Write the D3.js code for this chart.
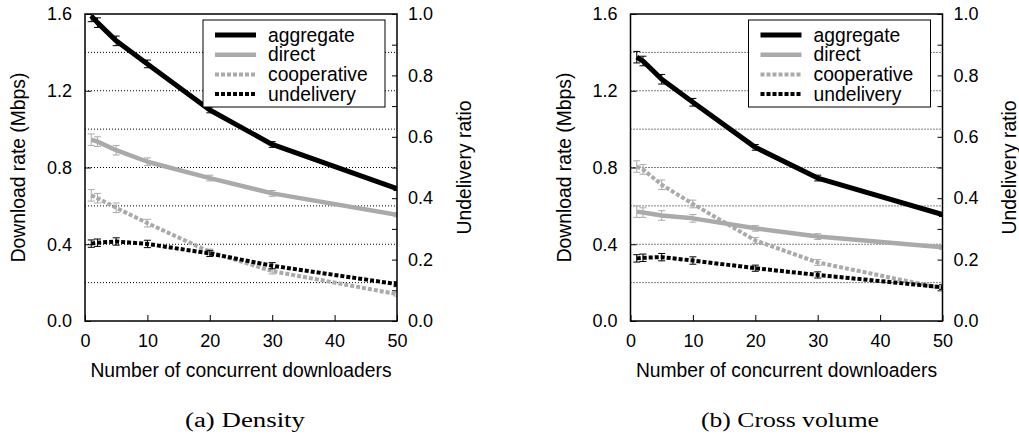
<!DOCTYPE html>
<html>
<head>
<meta charset="utf-8">
<script src="https://cdn.jsdelivr.net/npm/d3@7"></script>
<style>
  html, body { margin: 0; padding: 0; background: #fff; }
  svg { display: block; }
  text { font-family: "Liberation Sans", Arial, Helvetica, sans-serif; fill: #000; }
  .caption { font-family: "Liberation Serif", "DejaVu Serif", serif; }
</style>
</head>
<body>
<script>
// Number of concurrent downloaders at which each run was measured
const downloaders = [1, 2, 5, 10, 20, 30, 50];

// (a) Density: download rates in Mbps, undelivery as a ratio
const densityAggregate   = [1.59, 1.555, 1.46, 1.34, 1.10, 0.92, 0.69];
const densityDirect      = [0.945, 0.935, 0.89, 0.83, 0.745, 0.665, 0.553];
const densityCooperative = [0.655, 0.64, 0.59, 0.51, 0.36, 0.26, 0.14];
const densityUndelivery  = [0.252, 0.255, 0.259, 0.251, 0.22, 0.18, 0.12];

// (b) Cross volume
const crossAggregate   = [1.375, 1.355, 1.26, 1.14, 0.905, 0.745, 0.555];
const crossDirect      = [0.57, 0.565, 0.55, 0.535, 0.483, 0.44, 0.384];
const crossCooperative = [0.805, 0.79, 0.71, 0.61, 0.42, 0.305, 0.17];
const crossUndelivery  = [0.204, 0.206, 0.208, 0.197, 0.172, 0.15, 0.11];

// Half-widths of the confidence intervals
const rateError  = [0.03, 0.025, 0.025, 0.02, 0.015, 0.015, 0.01];
const ratioError = [0.012, 0.012, 0.012, 0.012, 0.01, 0.01, 0.008];

// Axis ticks
const xTicks = [0, 10, 20, 30, 40, 50];
const rateTicks = [0, 0.4, 0.8, 1.2, 1.6];
const rateGrid = [0.2, 0.4, 0.6, 0.8, 1.0, 1.2, 1.4];
const ratioTicks = [0, 0.1, 0.2, 0.3, 0.4, 0.5, 0.6, 0.7, 0.8, 0.9, 1.0];

const seriesNames = ["aggregate", "direct", "cooperative", "undelivery"];
const captions = ["(a) Density", "(b) Cross volume"];

const W = 1019, H = 435;
const plotTop = 14, plotBottom = 321;
const FS_TICK = 18, FS_LABEL = 19.3;

const svg = d3.select("body").append("svg").attr("width", W).attr("height", H);

const styles = {
  aggregate:   { color: "#000", width: 5,   dash: null },
  direct:      { color: "#aaa", width: 4.5, dash: null },
  cooperative: { color: "#aaa", width: 4,   dash: "4,2" },
  undelivery:  { color: "#000", width: 4,   dash: "4,2" }
};

function drawPanel(idx, left, right, data, caption) {
  const g = svg.append("g");
  const x = d3.scaleLinear().domain([0, 50]).range([left, right]);
  const y = d3.scaleLinear().domain([0, 1.6]).range([plotBottom, plotTop]);
  const y2 = d3.scaleLinear().domain([0, 1]).range([plotBottom, plotTop]);

  // dotted horizontal grid
  g.append("g").selectAll("line").data(rateGrid).join("line")
    .attr("x1", left).attr("x2", right)
    .attr("y1", d => y(d)).attr("y2", d => y(d))
    .attr("stroke", "#000").attr("stroke-width", 1)
    .attr("stroke-dasharray", "1,2");

  // axes
  const ax = g.append("g").attr("transform", `translate(0,${plotBottom})`)
    .call(d3.axisBottom(x).tickValues(xTicks).tickSize(-6).tickPadding(13));
  const ay = g.append("g").attr("transform", `translate(${left},0)`)
    .call(d3.axisLeft(y).tickValues(rateTicks).tickSize(-6).tickPadding(13)
      .tickFormat(d3.format(".1f")));
  const ay2 = g.append("g").attr("transform", `translate(${right},0)`)
    .call(d3.axisRight(y2).tickValues(ratioTicks).tickSize(-5).tickPadding(11)
      .tickFormat(d => (Math.round(d * 10) % 2 === 0) ? d3.format(".1f")(d) : ""));
  [ax, ay, ay2].forEach(a => {
    a.select(".domain").remove();
    a.selectAll("text").attr("font-size", FS_TICK).attr("font-family", null);
    a.selectAll("line").attr("stroke", "#000").attr("stroke-width", 1);
  });

  // clip for data
  const clipId = "clip" + idx;
  svg.append("clipPath").attr("id", clipId).append("rect")
    .attr("x", left).attr("y", plotTop).attr("width", right - left).attr("height", plotBottom - plotTop);

  const plot = g.append("g").attr("clip-path", `url(#${clipId})`);

  seriesNames.forEach(name => {
    const vals = data[name];
    const scale = name === "undelivery" ? y2 : y;
    const err = name === "undelivery" ? ratioError : rateError;
    const st = styles[name];
    const pts = downloaders.map((d, i) => [d, vals[i], err[i]]);

    const line = d3.line().x(d => x(d[0])).y(d => scale(d[1]));
    plot.append("path").datum(pts)
      .attr("d", line)
      .attr("fill", "none")
      .attr("stroke", st.color)
      .attr("stroke-width", st.width)
      .attr("stroke-dasharray", st.dash)
      .attr("stroke-linejoin", "round");

    // error bars
    const eb = plot.append("g").attr("stroke", st.color).attr("stroke-width", 1).attr("fill", "none");
    eb.selectAll("path").data(pts).join("path")
      .attr("d", d => {
        const cx = x(d[0]), y0 = scale(d[1] - d[2]), y1 = scale(d[1] + d[2]);
        return `M${cx},${y0}V${y1}M${cx - 3.5},${y0}H${cx + 3.5}M${cx - 3.5},${y1}H${cx + 3.5}`;
      });
  });

  // frame
  g.append("rect").attr("x", left).attr("y", plotTop)
    .attr("width", right - left).attr("height", plotBottom - plotTop)
    .attr("fill", "none").attr("stroke", "#000").attr("stroke-width", 1.5);

  // legend
  const lx = left + 118, ly = 20;
  const lg = g.append("g");
  lg.append("rect").attr("x", lx).attr("y", ly).attr("width", 182).attr("height", 87)
    .attr("fill", "#fff").attr("stroke", "#000").attr("stroke-width", 1);
  seriesNames.forEach((name, i) => {
    const st = styles[name];
    const ry = ly + 15 + i * 19.7;
    lg.append("line").attr("x1", lx + 12).attr("x2", lx + 53)
      .attr("y1", ry).attr("y2", ry)
      .attr("stroke", st.color).attr("stroke-width", st.width)
      .attr("stroke-dasharray", st.dash);
    lg.append("text").attr("x", lx + 65).attr("y", ry).attr("dy", "0.35em")
      .attr("font-size", FS_LABEL).text(name);
  });

  // axis titles
  const cy = (plotTop + plotBottom) / 2;
  g.append("text").attr("transform", `translate(${left - 66.5},${cy}) rotate(-90)`)
    .attr("text-anchor", "middle").attr("dy", "0.35em").attr("font-size", FS_LABEL)
    .text("Download rate (Mbps)");
  g.append("text").attr("transform", `translate(${right + 67},${cy}) rotate(-90)`)
    .attr("text-anchor", "middle").attr("dy", "0.35em").attr("font-size", FS_LABEL)
    .text("Undelivery ratio");
  g.append("text").attr("x", (left + right) / 2).attr("y", 377)
    .attr("text-anchor", "middle").attr("font-size", FS_LABEL)
    .text("Number of concurrent downloaders");

  // caption below the panel
  g.append("text").attr("class", "caption")
    .attr("x", caption.cx - caption.width / 2).attr("y", 427)
    .attr("font-size", 20)
    .attr("textLength", caption.width).attr("lengthAdjust", "spacingAndGlyphs")
    .text(captions[idx]);
}

drawPanel(0, 85, 397, {
  aggregate: densityAggregate, direct: densityDirect,
  cooperative: densityCooperative, undelivery: densityUndelivery
}, { cx: 245, width: 120 });
drawPanel(1, 630.5, 942.5, {
  aggregate: crossAggregate, direct: crossDirect,
  cooperative: crossCooperative, undelivery: crossUndelivery
}, { cx: 790, width: 178 });
</script>
</body>
</html>
